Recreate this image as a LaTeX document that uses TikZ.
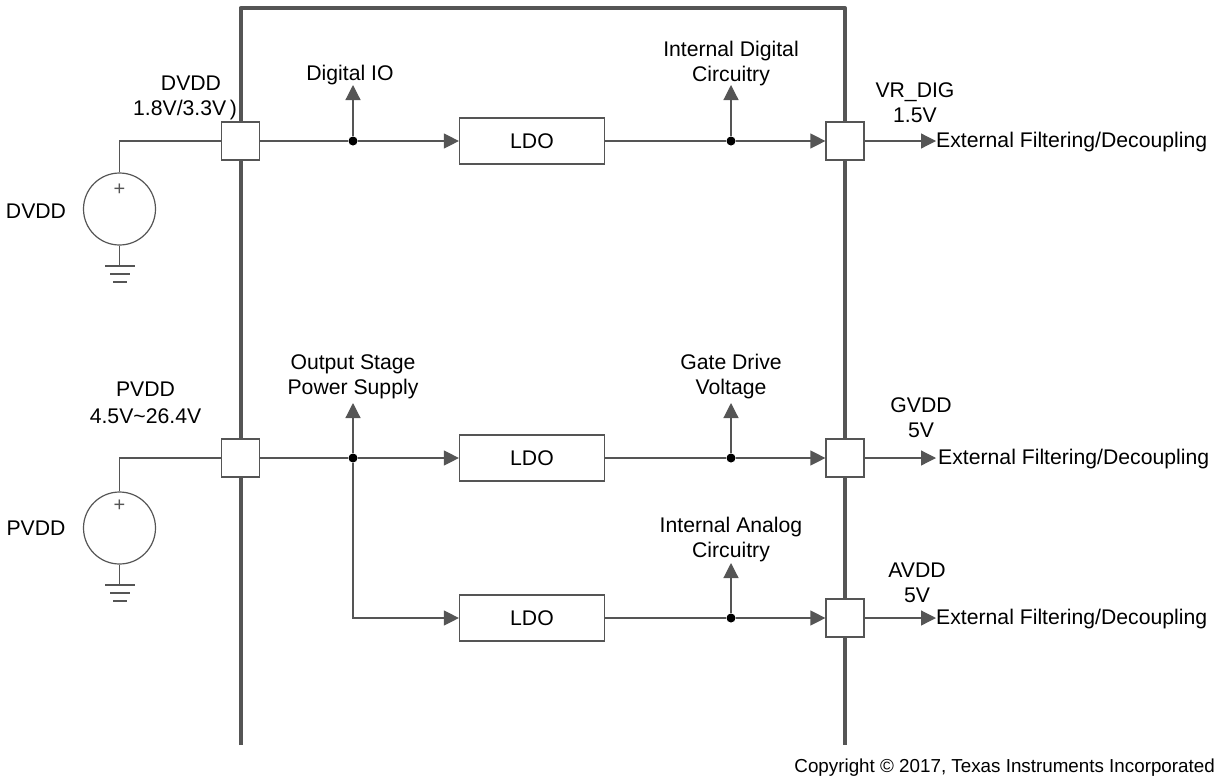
\documentclass[tikz,border=0pt]{standalone}
\usepackage{fontspec}
\setmainfont{Liberation Sans}
\usepackage{tikz}
\usetikzlibrary{arrows.meta,positioning}
\definecolor{wiregray}{HTML}{555555}

\begin{document}
\begin{tikzpicture}[
        x=1pt,
        y=-1pt,
        font=\fontsize{21.2}{25}\selectfont,
        wire/.style={wiregray, line width=1.2pt},
        feed/.style={wire, -{Triangle[length=15pt, width=15pt]}},
        wall/.style={wiregray, line width=4pt, line join=round},
        pin/.style={draw=wiregray, fill=white, line width=1.2pt, minimum size=38pt, inner sep=0pt},
        ldo/.style={draw=wiregray, fill=white, line width=1.2pt, minimum width=145pt, minimum height=46pt, inner sep=0pt},
        source/.style={circle, draw=wiregray, fill=white, line width=1.2pt, minimum size=72pt, inner sep=0pt},
        dot/.style={circle, fill=black, minimum size=9pt, inner sep=0pt},
        lab/.style={align=center, inner sep=0pt},
        sign/.style={lab, text=wiregray, font=\fontsize{20}{20}\selectfont}
    ]
        \useasboundingbox (0,0) rectangle (1215,777);

        % device outline
        \coordinate (wallL) at (240.5,745);
        \coordinate (wallTL) at (240.5,8);
        \coordinate (wallTR) at (845,8);
        \coordinate (wallR) at (845,745);
        \draw[wall] (wallL) -- (wallTL) -- (wallTR) -- (wallR);

        % pins, regulators, junctions
        \foreach \name/\x/\y in {pinD/240.5/141,pinP/240.5/458,pinVR/845/141,pinG/845/458,pinA/845/618} {
            \node[pin] (\name) at (\x,\y) {};
        }
        \node[ldo] (ldoD) at (532,141) {LDO};
        \node[ldo] (ldoG) at (532,458) {LDO};
        \node[ldo] (ldoA) at (532,618) {LDO};
        \foreach \name/\x/\y in {jD/353/141,jI/731/141,jP/353/458,jG/731/458,jA/731/618} {
            \node[dot] (\name) at (\x,\y) {};
        }

        % supplies
        \node[source] (srcD) at (119.5,209) {};
        \node[source] (srcP) at (119.5,528) {};
        \node[sign] (plusD) at (119.5,190) {+};
        \node[sign] (plusP) at (119.5,506) {+};
        \draw[wire] (srcD.north) |- (pinD.west);
        \draw[wire] (srcP.north) |- (pinP.west);
        \foreach \src/\y in {srcD/266,srcP/585} {
            \coordinate (\src g) at (119.5,\y);
            \draw[wire] (\src.south) -- (\src g);
            \draw[wire] (105,\y) -- (135,\y);
            \draw[wire] (110,\y+8) -- (130,\y+8);
            \draw[wire] (113,\y+16) -- (127,\y+16);
        }

        % labels
        \node[lab] (lblSrcD) at (36,211) {DVDD};
        \node[lab] (lblSrcP) at (36,528) {PVDD};
        \node[lab] (lblD) at (191,83) {DVDD};
        \node[lab] (lblDv) at (185,110) {1.8V/3.3V\,)};
        \node[lab] (lblP) at (145.5,402.5) {PVDD\\[2pt]4.5V\textasciitilde 26.4V};
        \node[lab] (lblVR) at (915,102.5) {VR\_DIG\\1.5V};
        \node[lab] (lblG) at (921,417.5) {GVDD\\5V};
        \node[lab] (lblA) at (917,583) {AVDD\\5V};

        \node[lab, anchor=south] (outIO) at (350,85) {Digital IO};
        \node[lab, anchor=south, outer ysep=-1pt] (outI) at (731,85) {Internal Digital\\Circuitry};
        \node[lab, anchor=south, outer ysep=4pt] (outS) at (353,403) {Output Stage\\Power Supply};
        \node[lab, anchor=south, outer ysep=4.5pt] (outV) at (731,403) {Gate Drive\\Voltage};
        \node[lab, anchor=south, outer ysep=1pt] (outN) at (731,563) {Internal Analog\\Circuitry};
        \node[lab, anchor=west] (extD) at (936,142.5) {External Filtering/Decoupling};
        \node[lab, anchor=west] (extG) at (938,459.5) {External Filtering/Decoupling};
        \node[lab, anchor=west] (extA) at (936,619.5) {External Filtering/Decoupling};

        % rails
        \draw[wire] (pinD.east) -- (jD);
        \draw[feed] (jD) -- (ldoD.west);
        \draw[wire] (ldoD.east) -- (jI);
        \draw[feed] (jI) -- (pinVR.west);
        \draw[wire] (pinP.east) -- (jP);
        \draw[feed] (jP) -- (ldoG.west);
        \draw[wire] (ldoG.east) -- (jG);
        \draw[feed] (jG) -- (pinG.west);
        \draw[feed] (jP) |- (ldoA.west);
        \draw[wire] (ldoA.east) -- (jA);
        \draw[feed] (jA) -- (pinA.west);

        \draw[feed] (jD) -- (outIO.south -| jD);
        \draw[feed] (jI) -- (outI.south);
        \draw[feed] (jP) -- (outS.south);
        \draw[feed] (jG) -- (outV.south);
        \draw[feed] (jA) -- (outN.south);
        \draw[feed] (pinVR.east) -- (pinVR.east -| extD.west);
        \draw[feed] (pinG.east) -- ([xshift=-2pt]pinG.east -| extG.west);
        \draw[feed] (pinA.east) -- (pinA.east -| extA.west);

        \node[lab, anchor=east, font=\fontsize{18.8}{20}\selectfont] (copy) at (1215,767.5) {Copyright © 2017, Texas Instruments Incorporated};
    \end{tikzpicture}
\end{document}
